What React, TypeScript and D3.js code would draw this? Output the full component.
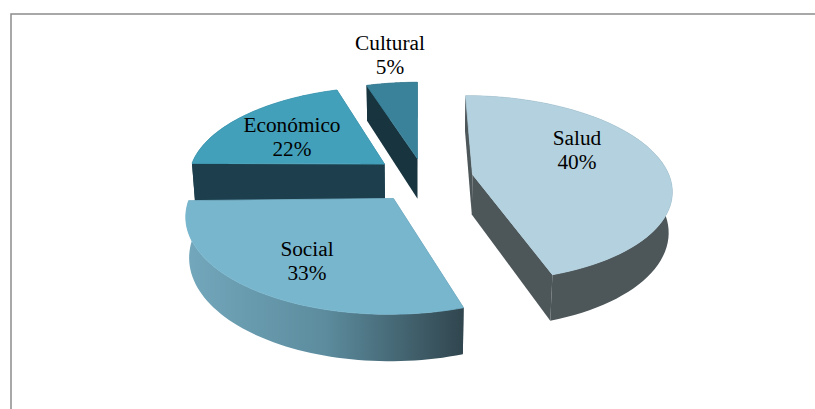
import React from "react";
import * as d3 from "d3";

// ---- data ----
const categories = ["Salud", "Social", "Económico", "Cultural"];
const percentages = [40, 33, 22, 5];
const explodeShare = [0.248, 0.245, 0.265, 0.245];
const topColors = ["#B3D1DE", "#78B6CE", "#43A0BA", "#3A8299"];
const faceColors = ["#4D5659", "#31464F", "#1D3F4D", "#17343F"];

// ---- layout of the 3-D view ----
const W = 815, H = 409;
const cx = 424, cy = 178;
const baseRx = 199, baseBack = 79, baseFront = 107;
const vanishX = 417;
const baseDepth = 40;
// Cumulative share → projected angle (the 3-D tilt compresses the pie's angles).
const warp = d3.scaleLinear().domain([0, 40, 73, 95, 100]).range([0, 159, 278.5, 344.7, 360]);
const labelCenters: [number, number][] = [[577, 145], [307, 256], [292, 132], [390, 50]];
const labelLine = 24;

const rad = (d: number) => (d * Math.PI) / 180;
const pie = d3.pie<number>().sort(null).value((d) => d);
const toShare = d3.scaleLinear().domain([0, 2 * Math.PI]).range([0, d3.sum(percentages)]);

type Pt = [number, number];

function makeSlice(i: number) {
  const arc = pie(percentages)[i];
  const a0 = warp(toShare(arc.startAngle));
  const a1 = warp(toShare(arc.endAngle));
  const mid = rad((a0 + a1) / 2);
  const e = explodeShare[i];
  const ax = cx + e * baseRx * Math.sin(mid);
  const ay = cy - e * Math.cos(mid) * (Math.cos(mid) > 0 ? baseBack : baseFront);
  const s = 1 + 0.0018 * (ay - 176);
  const rx = baseRx * s;
  const back = baseBack * s;
  const front = baseFront * s * s;
  const ry = (back + front) / 2;
  const shift = (front - back) / 2;
  const shear = (ax - vanishX) / 632;
  const top = (deg: number): Pt => {
    const t = rad(deg);
    const dy = shift - ry * Math.cos(t);
    return [ax + rx * Math.sin(t) + shear * dy, ay + dy];
  };
  const drop = ([x, y]: Pt): Pt => {
    const dy = y - ay;
    const d = baseDepth * (1 + 0.0015 * dy);
    return [x - (x - vanishX) * 0.00035 * d, y + d];
  };
  const angles = d3.range(0, 61).map((k) => a0 + ((a1 - a0) * k) / 60);
  const rim = angles.map(top);
  const rimLow = rim.map(drop);
  const apex: Pt = [ax, ay];
  const apexLow = drop(apex);
  const line = d3.line();
  return {
    top: line([apex, ...rim])! + "Z",
    wall: line([...rim, ...rimLow.slice().reverse()])! + "Z",
    startFace: line([apex, rim[0], rimLow[0], apexLow])! + "Z",
    endFace: line([apex, rim[60], rimLow[60], apexLow])! + "Z",
  };
}

const drawOrder = [3, 2, 0, 1];

export default function App() {
  return (
    <svg
      width={W}
      height={H}
      viewBox={`0 0 ${W} ${H}`}
      style={{ position: "fixed", left: 0, top: 0, background: "#fff" }}
    >
      <defs>
        <linearGradient id="socialWall" gradientUnits="userSpaceOnUse" x1={187} x2={463} y1={0} y2={0}>
          <stop offset="0" stopColor="#73A7BB" />
          <stop offset="0.5" stopColor="#5C8C9E" />
          <stop offset="1" stopColor={faceColors[1]} />
        </linearGradient>
      </defs>
      <path d="M11 409V14H815" fill="none" stroke="#8C8C8C" strokeWidth={1.5} />
      {drawOrder.map((i) => {
        const sl = makeSlice(i);
        const wallFill = i === 1 ? "url(#socialWall)" : faceColors[i];
        return (
          <g key={categories[i]}>
            <path d={sl.startFace} fill={faceColors[i]} />
            <path d={sl.endFace} fill={faceColors[i]} />
            <path d={sl.wall} fill={wallFill} />
            <path d={sl.top} fill={topColors[i]} stroke={topColors[i]} strokeWidth={0.8} strokeLinejoin="round" />
          </g>
        );
      })}
      {categories.map((c, i) => (
        <text
          key={c}
          x={labelCenters[i][0]}
          y={labelCenters[i][1]}
          textAnchor="middle"
          fontFamily="'Liberation Serif', serif"
          fontSize={21.3}
          fill="#000"
        >
          <tspan x={labelCenters[i][0]}>{c}</tspan>
          <tspan x={labelCenters[i][0]} dy={labelLine}>{percentages[i]}%</tspan>
        </text>
      ))}
    </svg>
  );
}
